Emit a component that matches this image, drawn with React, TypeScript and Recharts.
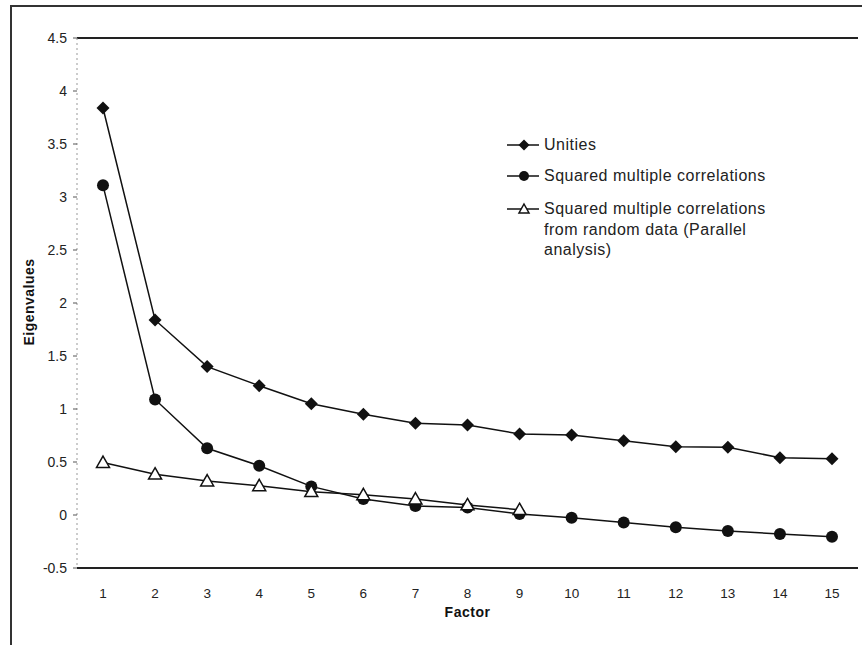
import { LineChart, Line, XAxis, YAxis, ReferenceLine, Label } from "recharts";

const factors = [1, 2, 3, 4, 5, 6, 7, 8, 9, 10, 11, 12, 13, 14, 15];
const unities = [3.84, 1.84, 1.4, 1.22, 1.05, 0.95, 0.865, 0.85, 0.765, 0.755, 0.7, 0.645, 0.64, 0.54, 0.53];
const smc = [3.11, 1.09, 0.63, 0.465, 0.27, 0.15, 0.085, 0.07, 0.01, -0.025, -0.07, -0.115, -0.15, -0.18, -0.205];
const parallel = [0.495, 0.385, 0.32, 0.275, 0.22, 0.19, 0.15, 0.095, 0.05];
const yTicks = [-0.5, 0, 0.5, 1, 1.5, 2, 2.5, 3, 3.5, 4, 4.5];

const seriesNames = {
  unities: "Unities",
  smc: "Squared multiple correlations",
  parallel: "Squared multiple correlations\nfrom random data (Parallel\nanalysis)",
};

const data = factors.map((f, i) => ({
  factor: f,
  unities: unities[i],
  smc: smc[i],
  parallel: i < parallel.length ? parallel[i] : null,
}));

const FONT = "'Liberation Sans', Arial, sans-serif";
const INK = "#111";

function diamondDot(props: any) {
  const { cx, cy, index } = props;
  if (cx == null || cy == null) return <g key={`d${index}`} />;
  const r = 6.5;
  return (
    <polygon key={`d${index}`} points={`${cx},${cy - r} ${cx + r},${cy} ${cx},${cy + r} ${cx - r},${cy}`} fill={INK} />
  );
}

function circleDot(props: any) {
  const { cx, cy, index } = props;
  if (cx == null || cy == null) return <g key={`c${index}`} />;
  return <circle key={`c${index}`} cx={cx} cy={cy} r={6} fill={INK} />;
}

function triangleDot(props: any) {
  const { cx, cy, index } = props;
  if (cx == null || cy == null) return <g key={`t${index}`} />;
  const s = 6.5;
  return (
    <polygon
      key={`t${index}`}
      points={`${cx},${cy - s} ${cx + s},${cy + s * 0.75} ${cx - s},${cy + s * 0.75}`}
      fill="#fff"
      stroke={INK}
      strokeWidth={1.5}
    />
  );
}

function Symbol({ kind }: { kind: string }) {
  return (
    <svg width={32} height={14} style={{ display: "block" }}>
      <line x1={0} y1={7} x2={32} y2={7} stroke={INK} strokeWidth={1.5} />
      {kind === "unities" && <polygon points="17,1.5 22.5,7 17,12.5 11.5,7" fill={INK} />}
      {kind === "smc" && <circle cx={17} cy={7} r={5} fill={INK} />}
      {kind === "parallel" && <polygon points="17,2 22,11 12,11" fill="#fff" stroke={INK} strokeWidth={1.5} />}
    </svg>
  );
}

function ChartLegend() {
  const rows = [
    { kind: "unities", top: 135 },
    { kind: "smc", top: 166 },
    { kind: "parallel", top: 199 },
  ];
  return (
    <>
      {rows.map((r) => (
        <div key={r.kind} style={{ position: "absolute", left: 507, top: r.top, display: "flex", alignItems: "flex-start" }}>
          <div style={{ marginTop: 3 }}>
            <Symbol kind={r.kind} />
          </div>
          <div
            style={{
              marginLeft: 5,
              fontFamily: FONT,
              fontSize: 16,
              letterSpacing: 0.5,
              lineHeight: "20.5px",
              color: "#222",
              whiteSpace: "pre",
            }}
          >
            {(seriesNames as any)[r.kind]}
          </div>
        </div>
      ))}
    </>
  );
}

export default function App() {
  return (
    <div style={{ position: "absolute", left: 0, top: 0, width: 862, height: 645, background: "#fff", overflow: "hidden" }}>
      <div
        style={{
          position: "absolute",
          left: 10,
          top: 5,
          width: 852,
          height: 638,
          borderTop: "2px solid #333",
          borderLeft: "2px solid #333",
          borderBottom: "2px solid #333",
        }}
      />
      <LineChart width={862} height={645} data={data} margin={{ top: 38, right: 4, bottom: 37, left: 27 }}>
        <XAxis
          dataKey="factor"
          type="category"
          padding={{ left: 26, right: 26 }}
          height={40}
          axisLine={{ stroke: "#222", strokeWidth: 2 }}
          tickLine={false}
          tickMargin={14}
          tick={{ fill: "#222", fontSize: 13.5, fontFamily: FONT }}
          interval={0}
        >
          <Label
            content={(p: any) => {
              const vb = p.viewBox || { x: 77, y: 568, width: 781 };
              return (
                <text
                  x={vb.x + vb.width / 2}
                  y={612}
                  textAnchor="middle"
                  dominantBaseline="central"
                  fontFamily={FONT}
                  fontSize={14}
                  fontWeight="bold"
                  letterSpacing={0.5}
                  fill="#111"
                >
                  Factor
                </text>
              );
            }}
          />
        </XAxis>
        <YAxis
          width={50}
          domain={[-0.5, 4.5]}
          ticks={yTicks}
          interval={0}
          allowDataOverflow
          axisLine={{ stroke: "#999", strokeDasharray: "2 3" }}
          tickLine={{ stroke: "#555" }}
          tickSize={4}
          tickMargin={6}
          tick={{ fill: "#222", fontSize: 14, fontFamily: FONT }}
        >
          <Label
            content={() => (
              <text
                x={29}
                y={302}
                transform="rotate(-90 29 302)"
                textAnchor="middle"
                dominantBaseline="central"
                fontFamily={FONT}
                fontSize={14}
                fontWeight="bold"
                letterSpacing={0.5}
                fill="#111"
              >
                Eigenvalues
              </text>
            )}
          />
        </YAxis>
        <YAxis
          yAxisId="right"
          orientation="right"
          width={0}
          domain={[-0.5, 4.5]}
          tick={false}
          tickLine={false}
          axisLine={{ stroke: "#aaa", strokeDasharray: "1 5" }}
        />
        <ReferenceLine y={4.5} stroke="#222" strokeWidth={2} />
        <Line
          dataKey="unities"
          name={seriesNames.unities}
          stroke={INK}
          strokeWidth={1.5}
          dot={diamondDot}
          isAnimationActive={false}
        />
        <Line
          dataKey="smc"
          name={seriesNames.smc}
          stroke={INK}
          strokeWidth={1.5}
          dot={circleDot}
          isAnimationActive={false}
        />
        <Line
          dataKey="parallel"
          name={seriesNames.parallel}
          stroke={INK}
          strokeWidth={1.5}
          dot={triangleDot}
          connectNulls={false}
          isAnimationActive={false}
        />
      </LineChart>
      <ChartLegend />
    </div>
  );
}
